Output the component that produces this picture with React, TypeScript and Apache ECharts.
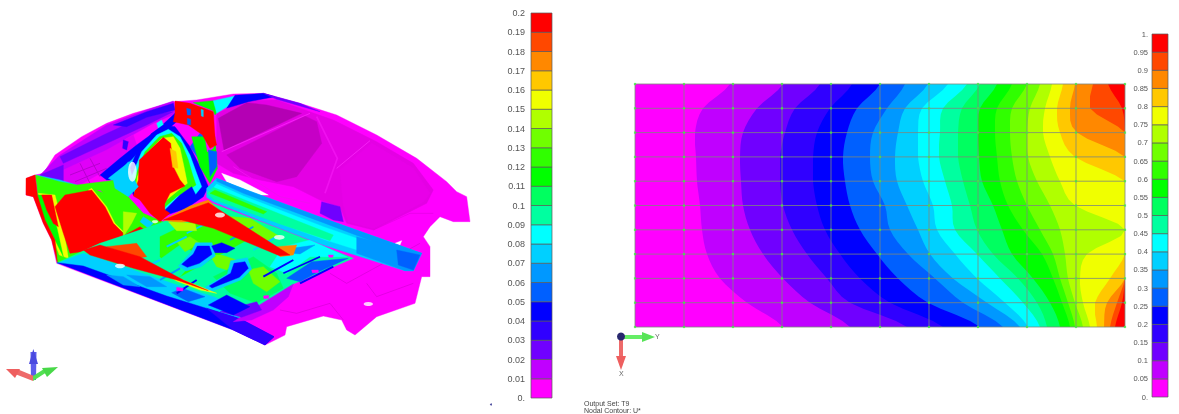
import React, { useEffect, useRef } from "react";
import * as echarts from "echarts";

// ---------- contour palette (20 bands, low to high) ----------
const bandColors = ["#ff00ff","#c000ff","#7000ff","#3000ff","#0000ff","#0060ff","#0098ff","#00d0ff","#00ffff","#00ffa0","#00ff60","#00ff00","#30ff00","#70ff00","#b0ff00","#f0ff00","#ffc800","#ff8800","#ff4800","#ff0000"];
const leftScaleMax = 0.2;
const rightScaleMax = 1;

// ---------- plate: where each iso level (0.05 ... 0.95) crosses each mesh row, in model units from the left edge ----------
const plateWidth = 490;
const plateHeight = 243;
const plateRows = 10;
const plateCols = 10;
const plateSubsteps = 4;
const row0 = [95,148,185,217,245,270,293,313,332,345,362,377,392,405,417,428,440,458,473];
const row1 = [68,122,160,195,222,252,270,287,308,327,345,362,377,395,410,422,435,455,487];
const row2 = [60,108,150,182,212,238,263,283,305,323,343,360,375,392,408,425,442,490,490];
const row3 = [61,105,145,178,208,235,260,283,304,323,344,362,377,393,415,440,490,490,490];
const row4 = [62,106,145,178,210,238,262,288,310,328,347,365,382,402,425,490,490,490,490];
const row5 = [65,108,148,182,215,250,272,298,317,335,358,373,392,415,440,490,490,490,490];
const row6 = [67,115,157,190,225,255,283,302,320,342,367,388,405,425,490,490,490,490,490];
const row7 = [72,128,172,205,242,273,295,320,342,358,377,407,418,430,452,490,490,490,490];
const row8 = [85,148,192,225,263,300,318,342,365,383,398,418,425,433,445,475,490,490,490];
const row9 = [112,175,215,255,293,328,352,370,388,402,415,427,433,440,448,460,472,482,487];
const row10 = [148,215,272,308,345,368,385,393,405,412,425,435,440,448,455,462,469,475,480];
const plateCrossings = [row0,row1,row2,row3,row4,row5,row6,row7,row8,row9,row10];

// ---------- car body, layer by layer, in picture units (1440 x 960) ----------
const silhouette = [80,295,105,285,130,280,165,225,245,170,320,130,400,100,520,65,590,60,700,42,790,40,900,70,1010,105,1130,165,1250,235,1340,305,1370,335,1400,350,1410,425,1360,425,1320,410,1290,440,1270,470,1290,500,1290,590,1265,590,1245,670,1130,710,1065,765,1040,750,1025,720,970,708,860,740,855,765,795,795,700,750,170,550,155,480,130,430,100,350,78,345];
const roofLight = [650,100,740,62,830,60,1000,120,1130,185,1240,250,1300,330,1280,370,1180,420,1120,450,1040,430,1020,380,960,360,880,320,780,300,700,280,650,250];
const roofPanelA = [655,115,740,68,800,75,905,100,780,160,672,210];
const roofPanelB = [680,225,915,108,950,125,965,190,890,290,830,305,720,265];
const roofPanelC = [1020,270,1115,190,1240,265,1290,340,1270,365,1180,415,1120,445,1045,425,1030,375];
const creaseA = [665,215,780,165,930,100];
const creaseB = [1010,265,1110,182];
const creaseC = [950,110,1012,235,975,340];
const creaseD = [700,260,840,350,930,370];
const rearCreaseA = [990,580,1040,610,1260,490];
const rearCreaseB = [840,690,890,700,990,670,1030,720];
const rearCreaseC = [1100,610,1130,650,1240,610];
const rearCreaseD = [1120,450,1230,400,1300,400];
const slit = [665,280,720,300,805,345,760,345,680,305];
const gapWedge = [1185,490,1205,482,1200,495];
const sideShadow = [965,365,1020,380,1030,425,1000,420,960,400];
const topBand = [120,285,180,225,320,135,440,90,520,63,530,100,460,130,380,175,300,240,200,300,140,310];
const topBandInner = [180,230,310,165,440,105,520,95,440,135,310,195,190,250];
const topBandDark = [340,135,440,95,520,70,525,90,440,112,380,140];
const ventPanel = [190,270,320,210,400,165,410,195,360,235,310,275,230,320,190,300];
const ventLine1 = [240,250,270,310];
const ventLine2 = [270,235,300,290];
const ventLine3 = [210,285,300,250];
const ventLine4 = [225,305,320,265];
const ventHole = [370,180,385,185,380,210,368,205];
const cornerPurple = [120,285,190,255,190,315,160,310,130,300];
const underPanel = [300,285,360,235,410,195,465,155,525,100,530,125,490,160,440,205,400,255,350,300,320,300];
const underCyan = [325,295,395,240,445,180,490,150,470,205,410,270,400,320,350,310];
const ventSpot = [470,130,485,120,490,135,475,145];
const wheelBlue = [455,160,490,135,525,140,570,200,600,260,625,320,610,350,560,385,500,405,480,395,400,345,380,290,410,215];
const wheelCyan = [470,165,505,148,540,170,570,225,590,280,605,320,585,345,540,370,495,392,405,345,395,290,425,215];
const wheelGreen = [478,170,515,160,545,190,565,240,578,285,588,315,565,330,530,350,490,385,405,345,405,290,435,215];
const wheelYellow = [485,175,520,170,540,205,552,260,562,310,530,335,488,370,405,345,412,290,445,215];
const wheelRed = [490,172,512,190,520,260,540,300,555,318,510,340,482,395,400,348,415,300,418,240];
const wheelOrange = [510,205,528,215,534,265,518,262];
const wheelBlueLobe = [490,395,540,345,575,320,590,350,530,385];
const holeRim = [340,300,385,245,395,285,415,320,385,350,345,325];
const pillarLower = [575,170,645,170,652,265,630,310,600,260];
const pillarBlue = [570,200,600,160,640,190,648,265,632,300,605,250];
const pillarMagenta = [615,170,645,175,640,205,622,215];
const pillarGreen = [625,210,650,215,650,260,630,290];
const pillarRed = [525,63,570,70,640,95,645,175,625,190,608,165,565,135,520,125,525,100];
const pillarWing = [600,125,640,150,650,195,630,205,610,170];
const pillarHoleA = [560,85,572,88,572,105,562,105];
const pillarHoleB = [562,115,572,118,572,135,562,133];
const pillarHoleC = [603,88,610,90,610,110,604,108];
const roofEdgeGreen = [580,68,640,62,660,85,645,105,640,92];
const roofEdgeCyan = [640,62,705,48,690,75,650,100];
const roofEdgeBlue = [705,46,790,40,825,50,745,65,680,85];
const roofEdgePurple = [790,40,900,70,960,95,830,58];
const noseRed = [78,295,105,285,112,345,135,420,165,480,172,545,155,480,130,430,100,350,78,345];
const noseRim = [105,285,180,305,230,315,270,310,350,300,380,345,430,400,500,430,480,470,420,440,300,330,200,330,115,340];
const bodyGreen = [112,310,190,320,275,325,390,370,430,410,490,440,470,470,480,520,300,535,200,552,172,548,160,480,135,420,112,345];
const bodyCyanL = [110,285,180,300,240,318,190,325,120,318];
const bodyYellow = [115,340,165,345,190,440,205,535,178,525,150,450];
const bodyLeftGreen = [105,345,150,345,170,440,190,530,165,480,135,420];
const bodyInnerRed = [125,345,155,345,175,440,160,430,140,390];
const bodyRed = [165,380,195,345,275,330,315,380,340,430,375,465,420,440,450,460,475,485,410,490,360,480,300,490,245,515,210,520,190,460];
const bodyYellowEdge = [275,325,320,380,345,430,375,460,345,440,310,385,265,330];
const bodyOliveStrip = [370,395,410,400,395,430,370,470,370,430];
const bodyStrip2 = [430,410,460,430,445,445,420,425];
const wheelFootRed = [420,330,490,330,495,390,510,400,480,425,450,400,420,360];
const floorBase = [172,548,300,490,480,430,625,365,900,470,1060,535,880,612,860,650,770,680,700,725,500,650,250,560];
const floorLeftLow = [172,550,250,520,400,570,560,625,640,650,740,690,700,725,500,650,250,560];
const floorGreenA = [480,470,625,400,760,470,640,535,540,590,480,530];
const floorGreenB = [640,590,760,530,830,580,850,625,770,670,690,640];
const floorTealA = [470,545,540,495,600,525,540,590,500,580];
const floorLime1 = [630,525,665,525,710,540,680,570,650,560];
const floorLime2 = [530,485,570,470,600,490,555,515];
const floorLime3 = [745,570,790,560,840,605,800,635,760,610];
const floorLime4 = [640,405,750,415,840,470,800,482,700,445];
const floorBand = [172,548,250,558,500,648,720,716,822,770,795,795,700,750];
const floorBandPurple = [620,685,720,716,822,770,795,795,700,750];
const sillPurple = [700,725,770,680,880,612,865,650,820,690,755,720];
const floorPurple = [660,695,770,665,785,690,725,712];
const saddle1Rim = [535,558,572,518,587,488,636,488,646,528,603,560,558,573];
const saddle1 = [545,553,580,522,592,498,628,498,636,523,598,550,562,562];
const saddle2 = [635,498,665,488,705,505,680,518,645,518];
const saddle3Rim = [615,622,682,582,692,542,742,533,755,568,722,600,632,636];
const saddle3 = [628,618,692,580,702,550,735,545,745,565,718,592,636,624];
const blueLowA = [515,638,548,625,615,650,565,665];
const blueLowB = [625,675,680,645,750,680,700,705];
const blueLowC = [380,585,450,590,500,620,440,620];
const blueLowD = [320,585,370,590,420,620,370,615];
const blueRight = [860,595,935,545,1045,535,950,578,900,605];
const cyanRight = [850,500,930,480,1040,530,930,530,860,580,810,560];
const blueRightTop = [875,505,945,495,900,522,855,518];
const stripeA = [430,565,480,540];
const stripeB = [480,600,540,565];
const stripeC = [590,600,530,640];
const stripeD = [690,480,760,440];
const stripeE = [760,510,830,470];
const stripeF = [790,590,880,540];
const stripeG = [850,580,960,530];
const stripeH = [900,610,1000,560];
const stripeI = [500,500,560,470];
const stripeJ = [560,460,620,430];
const railOuter = [620,325,650,295,740,330,970,415,1265,520,1240,572,1215,572,970,495,840,445,640,365,620,352];
const railCyan = [630,335,650,312,730,348,970,440,1230,530,1215,555,970,478,840,430];
const railTeal = [622,340,640,322,840,402,1000,465,990,482,840,432,640,358];
const railGreen = [630,340,645,330,800,395,790,402];
const railBlueTop = [650,295,740,330,970,415,1265,520,1252,535,970,428,730,340,650,304];
const railEnd = [1070,470,1265,520,1240,572,1215,572,1070,520];
const railEndDark = [1190,510,1260,525,1240,570,1195,555];
const floorRailAEdge = [490,420,570,378,625,360,650,385,620,410,540,430];
const floorRailAOlive = [505,425,585,430,590,452,530,452];
const floorRailATip = [830,500,890,495,880,525,840,530];
const floorRailA = [490,420,570,388,625,368,690,410,870,525,838,527,640,445,545,420];
const floorRailB = [250,510,300,495,420,530,550,600,625,632,530,600,400,565,270,525];
const floorRailBOrange = [320,500,410,490,440,530,410,535,360,515];
const floorRailBYellow = [470,570,550,600,650,640,600,630,530,603];
const spotA = [530,622,550,625,548,633,530,632];
const spotB = [935,570,955,570,955,578,937,578];
const spotC = [985,525,1000,525,998,532,987,532];
const spotD = [790,648,806,646,806,655,792,656];

type Layer = [number | string, number[], number?];
const carLayers: Layer[] = [
  [0, silhouette],
  ["#e400e4", roofLight],
  ["#b400b4", roofPanelA],
  ["#c600c6", roofPanelB],
  ["#e800e8", roofPanelC],
  ["#ff30ff", creaseA, 2],
  ["#ff30ff", creaseB, 2],
  ["#f010f0", creaseC, 5],
  ["#f010f0", creaseD, 3],
  ["#c800c8", rearCreaseA, 1.5],
  ["#c800c8", rearCreaseB, 1.5],
  ["#c800c8", rearCreaseC, 1.5],
  ["#d800d8", rearCreaseD, 1.5],
  ["#ffffff", slit],
  ["#ffffff", gapWedge],
  [2, sideShadow],
  [1, topBand],
  [2, topBandInner],
  [3, topBandDark],
  ["#e000f8", ventPanel],
  ["#b800d0", ventLine1, 3],
  ["#b800d0", ventLine2, 3],
  ["#b800d0", ventLine3, 3],
  ["#b800d0", ventLine4, 3],
  [3, ventHole],
  [2, cornerPurple],
  [4, underPanel],
  [7, underCyan],
  [8, ventSpot],
  [12, bodyGreen],
  [7, bodyCyanL],
  [12, noseRim],
  [15, bodyYellow],
  [11, bodyLeftGreen],
  [19, bodyInnerRed],
  [15, bodyYellowEdge],
  [19, bodyRed],
  [19, noseRed],
  [14, bodyOliveStrip],
  [7, bodyStrip2],
  [4, wheelBlue],
  [8, wheelCyan],
  [12, wheelGreen],
  [15, wheelYellow],
  [19, wheelRed],
  [16, wheelOrange],
  [4, wheelBlueLobe],
  [19, wheelFootRed],
  [7, holeRim],
  [5, pillarBlue],
  [11, pillarLower],
  [0, pillarMagenta],
  [5, pillarGreen],
  [19, pillarRed],
  [19, pillarWing],
  [5, pillarHoleA],
  [5, pillarHoleB],
  [7, pillarHoleC],
  [11, roofEdgeGreen],
  [8, roofEdgeCyan],
  [4, roofEdgeBlue],
  [2, roofEdgePurple],
  [9, floorBase],
  [7, floorLeftLow],
  [4, floorBand],
  [3, floorBandPurple],
  [1, sillPurple],
  [12, floorGreenA],
  [10, floorGreenB],
  [9, floorTealA],
  [13, floorLime1],
  [13, floorLime2],
  [13, floorLime3],
  [13, floorLime4],
  [2, floorPurple],
  [7, saddle1Rim], [4, saddle1], [4, saddle2],
  [7, saddle3Rim], [4, saddle3],
  [5, blueLowA], [4, blueLowB], [6, blueLowC], [6, blueLowD],
  [8, cyanRight], [5, blueRight], [6, blueRightTop],
  [7, stripeA, 6], [6, stripeB, 6], [4, stripeC, 6], [6, stripeD, 5], [7, stripeE, 6],
  [4, stripeF, 6], [4, stripeG, 5], [4, stripeH, 6], [7, stripeI, 6], [7, stripeJ, 5],
  [7, railOuter],
  [8, railCyan],
  [9, railTeal],
  [12, railGreen],
  [6, railBlueTop],
  [6, railEnd],
  [5, railEndDark],
  [17, floorRailAEdge],
  [14, floorRailAOlive],
  [17, floorRailATip],
  [19, floorRailA],
  [18, floorRailBOrange],
  [15, floorRailBYellow],
  [19, floorRailB],
  [0, spotA], [0, spotB], [0, spotC], [0, spotD],
];
const carHoles = [[660,405,30,15],[838,472,32,14],[360,558,30,13],[1105,672,28,12],[397,275,26,60],[465,425,18,9]];

// ---------- labels ----------
const outputLabel = "Output Set: T9";
const contourLabel = "Nodal Contour: U*";

const colorbarSeries = (axisIdx: number, top: number) => ({
  type: "custom", xAxisIndex: axisIdx, yAxisIndex: axisIdx,
  data: bandColors.map((_, i) => [i]),
  renderItem: (params: any, api: any) => {
    const i = api.value(0);
    const a = api.coord([0, (i * top) / 20]);
    const b = api.coord([1, ((i + 1) * top) / 20]);
    return { type: "rect", shape: { x: a[0], y: b[1], width: b[0] - a[0], height: a[1] - b[1] }, style: { fill: bandColors[i], stroke: "#5a5a5a", lineWidth: 0.7 } };
  },
});

const fmtTick = (v: number) => {
  const r = Math.round(v * 100) / 100;
  return r === 0 ? "0." : r === 1 ? "1." : String(r);
};

const App = () => {
  const ref = useRef<HTMLDivElement>(null);
  useEffect(() => {
    const chart = echarts.init(ref.current!, undefined, { renderer: "svg" });

    const meshNodes: number[][] = [];
    for (let r = 0; r <= plateRows; r++) for (let c = 0; c <= plateCols; c++) meshNodes.push([(c * plateWidth) / plateCols, (r * plateHeight) / plateRows]);
    const meshLines: number[][] = [];
    for (let r = 0; r <= plateRows; r++) meshLines.push([0, (r * plateHeight) / plateRows, plateWidth, (r * plateHeight) / plateRows]);
    for (let c = 0; c <= plateCols; c++) meshLines.push([(c * plateWidth) / plateCols, 0, (c * plateWidth) / plateCols, plateHeight]);

    // low edge of band b, smoothed between the read mesh rows for drawing
    const edgeAt = (b: number, r: number, t: number) => {
      if (b === 0) return 0;
      const at = (k: number) => plateCrossings[Math.max(0, Math.min(plateRows, k))][b - 1];
      const p0 = at(r - 1), p1 = at(r), p2 = at(r + 1), p3 = at(r + 2);
      const v = 0.5 * (2 * p1 + (p2 - p0) * t + (2 * p0 - 5 * p1 + 4 * p2 - p3) * t * t + (3 * p1 - p0 - 3 * p2 + p3) * t * t * t);
      return Math.max(Math.min(p1, p2), Math.min(Math.max(p1, p2), v));
    };

    const hiddenAxis = (extra: any) => ({ type: "value", show: false, ...extra });

    chart.setOption({
      animation: false,
      backgroundColor: "#ffffff",
      grid: [
        { left: 0, top: 80, width: 480, height: 320 },
        { left: 531, top: 13, width: 21, height: 385 },
        { left: 635, top: 84, width: 490, height: 243 },
        { left: 1152, top: 34, width: 16, height: 363 },
      ],
      xAxis: [
        hiddenAxis({ gridIndex: 0, min: 0, max: 1440 }),
        hiddenAxis({ gridIndex: 1, min: 0, max: 1 }),
        hiddenAxis({ gridIndex: 2, min: 0, max: plateWidth }),
        hiddenAxis({ gridIndex: 3, min: 0, max: 1 }),
      ],
      yAxis: [
        hiddenAxis({ gridIndex: 0, min: 0, max: 960, inverse: true }),
        {
          type: "value", gridIndex: 1, min: 0, max: leftScaleMax, interval: 0.01,
          axisLine: { show: false }, axisTick: { show: false }, splitLine: { show: false },
          axisLabel: { formatter: fmtTick, color: "#555555", fontSize: 9, fontFamily: "Liberation Sans", margin: 6 },
        },
        hiddenAxis({ gridIndex: 2, min: 0, max: plateHeight, inverse: true }),
        {
          type: "value", gridIndex: 3, min: 0, max: rightScaleMax, interval: 0.05,
          axisLine: { show: false }, axisTick: { show: false }, splitLine: { show: false },
          axisLabel: { formatter: fmtTick, color: "#555555", fontSize: 7.5, fontFamily: "Liberation Sans", margin: 4 },
        },
      ],
      series: [
        {
          type: "custom", xAxisIndex: 0, yAxisIndex: 0, z: 2,
          data: carLayers.map((_, i) => [i]),
          renderItem: (params: any, api: any) => {
            const [c, flat, lw] = carLayers[api.value(0)];
            const col = typeof c === "number" ? bandColors[c] : c;
            const pts: number[][] = [];
            for (let k = 0; k < flat.length; k += 2) pts.push(api.coord([flat[k], flat[k + 1]]));
            if (lw) return { type: "polyline", shape: { points: pts }, style: { fill: "none", stroke: col, lineWidth: lw / 3 } };
            return { type: "polygon", shape: { points: pts }, style: { fill: col, stroke: col, lineWidth: 0.4 } };
          },
        },
        {
          type: "scatter", xAxisIndex: 0, yAxisIndex: 0, z: 3, symbol: "circle",
          data: carHoles.map((h) => [h[0], h[1]]),
          symbolSize: (_: any, p: any) => [carHoles[p.dataIndex][2] / 3, carHoles[p.dataIndex][3] / 3],
          itemStyle: { color: "#ffffff" },
        },
        colorbarSeries(1, leftScaleMax),
        colorbarSeries(3, rightScaleMax),
        {
          type: "custom", xAxisIndex: 2, yAxisIndex: 2, z: 2,
          data: bandColors.map((_, b) => [b]),
          renderItem: (params: any, api: any) => {
            const b = api.value(0);
            const pts: number[][] = [api.coord([plateWidth, 0])];
            for (let r = 0; r < plateRows; r++) {
              for (let s = 0; s < plateSubsteps; s++) {
                const t = s / plateSubsteps;
                pts.push(api.coord([edgeAt(b, r, t), ((r + t) * plateHeight) / plateRows]));
              }
            }
            pts.push(api.coord([edgeAt(b, plateRows - 1, 1), plateHeight]));
            pts.push(api.coord([plateWidth, plateHeight]));
            return { type: "polygon", shape: { points: pts }, style: { fill: bandColors[b] } };
          },
        },
        {
          type: "custom", xAxisIndex: 2, yAxisIndex: 2, z: 4,
          data: meshLines,
          renderItem: (params: any, api: any) => {
            const a = api.coord([api.value(0), api.value(1)]);
            const b = api.coord([api.value(2), api.value(3)]);
            return { type: "line", shape: { x1: a[0], y1: a[1], x2: b[0], y2: b[1] }, style: { stroke: "rgba(125,135,125,0.8)", lineWidth: 1 } };
          },
        },
        {
          type: "scatter", xAxisIndex: 2, yAxisIndex: 2, z: 5, symbol: "rect", symbolSize: 2.2,
          data: meshNodes, itemStyle: { color: "#44e844" },
        },
      ],
      graphic: [
        // left triad
        { type: "polygon", shape: { points: [[30.5,352],[36.5,352],[36,380],[31,380]] }, style: { fill: "#5c5cec" } },
        { type: "polygon", shape: { points: [[33.3,349],[29,364],[38,364]] }, style: { fill: "#4a4adf" } },
        { type: "polygon", shape: { points: [[33,381],[15,374],[17,369],[34,376]] }, style: { fill: "#ee6a6a" } },
        { type: "polygon", shape: { points: [[6,369],[20,369],[15,378]] }, style: { fill: "#ee5f5f" } },
        { type: "polygon", shape: { points: [[33,381],[47,372],[44,369],[33,376]] }, style: { fill: "#52e052" } },
        { type: "polygon", shape: { points: [[58,367],[42,368],[47,377]] }, style: { fill: "#48d848" } },
        // right triad
        { type: "polygon", shape: { points: [[621,335],[643,335],[643,339],[621,339]] }, style: { fill: "#66ee66" } },
        { type: "polygon", shape: { points: [[655,337],[642,332],[642,342]] }, style: { fill: "#58e458" } },
        { type: "polygon", shape: { points: [[619,337],[623,337],[623,358],[619,358]] }, style: { fill: "#ee6a6a" } },
        { type: "polygon", shape: { points: [[621,370],[616,356],[626,356]] }, style: { fill: "#ee5f5f" } },
        { type: "circle", shape: { cx: 621, cy: 336.5, r: 4 }, style: { fill: "#28286e" } },
        { type: "text", x: 655, y: 333, style: { text: "Y", fontSize: 7, fill: "#666", fontFamily: "Liberation Sans" } },
        { type: "text", x: 619, y: 370, style: { text: "X", fontSize: 7, fill: "#666", fontFamily: "Liberation Sans" } },
        // dot and caption
        { type: "circle", shape: { cx: 491, cy: 404.5, r: 1 }, style: { fill: "#5050a0" } },
        { type: "text", x: 584, y: 400, style: { text: outputLabel, fontSize: 7, fill: "#444", fontFamily: "Liberation Sans" } },
        { type: "text", x: 584, y: 407, style: { text: contourLabel, fontSize: 7, fill: "#444", fontFamily: "Liberation Sans" } },
      ],
    });
    return () => chart.dispose();
  }, []);
  return <div ref={ref} style={{ position: "absolute", left: 0, top: 0, width: 1179, height: 414, filter: "blur(0.4px)" }} />;
};

export default App;
